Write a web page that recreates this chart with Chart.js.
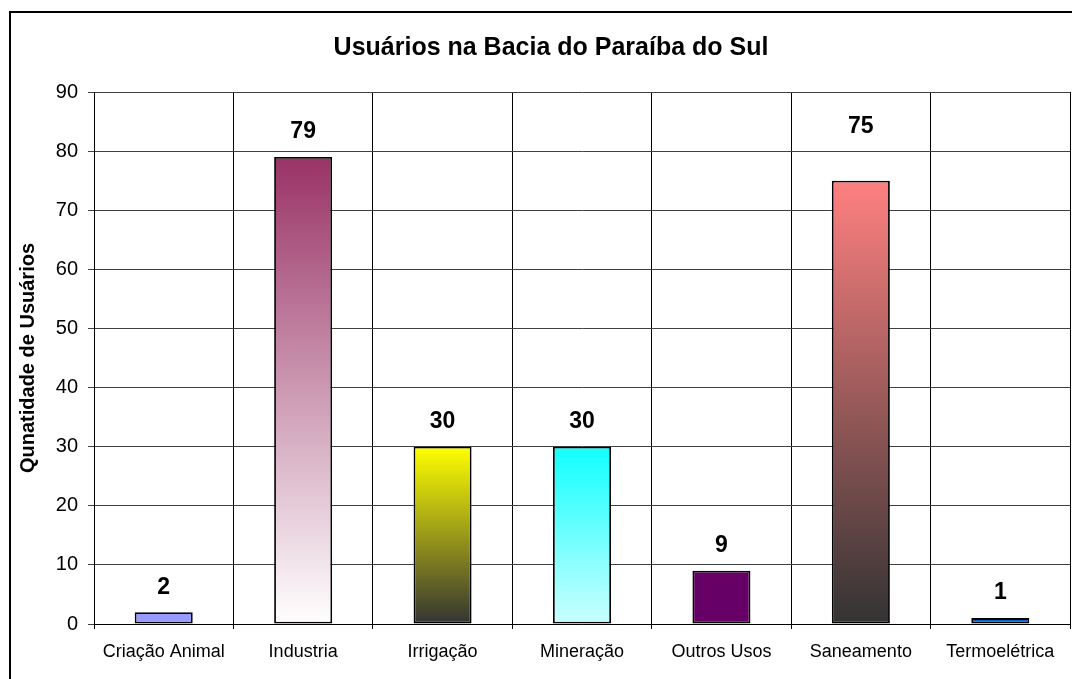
<!DOCTYPE html>
<html>
<head>
<meta charset="utf-8">
<script src="https://cdn.jsdelivr.net/npm/chart.js@4/dist/chart.umd.min.js"></script>
<style>
  html, body { margin: 0; padding: 0; background: #fff; }
  #wrap { width: 1072px; height: 679px; position: relative; }
</style>
</head>
<body>
<div id="wrap"><canvas id="c" width="1072" height="679"></canvas></div>
<script>
const chartTitle = 'Usuários na Bacia do Paraíba do Sul';
const yAxisTitle = 'Qunatidade de Usuários';
const categories = ['Criação Animal', 'Industria', 'Irrigação', 'Mineração', 'Outros Usos', 'Saneamento', 'Termoelétrica'];
const values = [2, 79, 30, 30, 9, 75, 1];
const yTicks = [0, 10, 20, 30, 40, 50, 60, 70, 80, 90];
// [top colour, bottom colour] per bar
const barTopColors    = ['#9999ff', '#993366', '#ffff00', '#11ffff', '#660066', '#ff8080', '#0066cc'];
const barBottomColors = ['#9999ff', '#ffffff', '#333333', '#ccffff', '#660066', '#333333', '#0066cc'];

const FONT = '"Liberation Sans", Arial, Helvetica, sans-serif';
Chart.defaults.font.family = FONT;
Chart.defaults.color = '#000';

function barFill(ctx) {
  const i = ctx.dataIndex;
  const chart = ctx.chart;
  const top = barTopColors[i], bottom = barBottomColors[i];
  if (top === bottom || !chart.chartArea) return top;
  const ys = chart.scales.y;
  const y0 = ys.getPixelForValue(0);
  const y1 = ys.getPixelForValue(values[i]);
  const g = chart.ctx.createLinearGradient(0, y1, 0, y0);
  g.addColorStop(0, top);
  g.addColorStop(1, bottom);
  return g;
}

const framePlugin = {
  id: 'frame',
  beforeDraw(chart) {
    const c = chart.ctx;
    c.save();
    c.fillStyle = '#fff';
    c.fillRect(0, 0, chart.width, chart.height);
    c.restore();
  },
  afterDraw(chart) {
    const c = chart.ctx;
    c.save();
    c.strokeStyle = '#000';
    c.lineWidth = 2;
    c.beginPath();
    c.moveTo(10, chart.height + 2);
    c.lineTo(10, 12);
    c.lineTo(chart.width + 2, 12);
    c.stroke();
    c.restore();
  }
};

const valueLabels = {
  id: 'valueLabels',
  afterDatasetsDraw(chart, args, opts) {
    const c = chart.ctx;
    const meta = chart.getDatasetMeta(0);
    const extra = opts.extraLift || {};
    c.save();
    c.font = 'bold 23px ' + FONT;
    c.fillStyle = '#000';
    c.textAlign = 'center';
    c.textBaseline = 'middle';
    meta.data.forEach((bar, i) => {
      c.fillText(String(values[i]), bar.x, bar.y - 25 - (extra[i] || 0));
    });
    c.restore();
  }
};

new Chart(document.getElementById('c'), {
  type: 'bar',
  data: {
    labels: categories,
    datasets: [{
      data: values,
      backgroundColor: barFill,
      borderColor: '#000',
      borderWidth: 1.8,
      borderSkipped: false,
      categoryPercentage: 1,
      barPercentage: 0.416
    }]
  },
  options: {
    responsive: false,
    animation: false,
    devicePixelRatio: 1,
    layout: { padding: { left: 32, right: 2, top: 0, bottom: 0 } },
    plugins: {
      legend: { display: false },
      tooltip: { enabled: false },
      valueLabels: { extraLift: { 5: 29 } },
      title: {
        display: true,
        text: chartTitle,
        color: '#000',
        font: { size: 25, weight: 'bold', family: FONT },
        padding: { top: 33, bottom: 29 }
      }
    },
    scales: {
      x: {
        grid: { display: true, offset: true, color: '#000', lineWidth: 1, tickLength: 5, drawTicks: true },
        border: { display: true, color: '#000', width: 1 },
        ticks: { font: { size: 18 }, color: '#000', padding: 12, maxRotation: 0, autoSkip: false },
        afterFit(scale) { scale.height = 55; }
      },
      y: {
        min: 0,
        max: 90,
        grid: { color: '#404040', lineWidth: 1, tickLength: 6 },
        border: { display: true, color: '#000', width: 1 },
        ticks: {
          stepSize: 10,
          font: { size: 20 },
          color: '#000',
          padding: 10,
          callback: (v) => yTicks.includes(v) ? String(v) : ''
        },
        title: {
          display: true,
          text: yAxisTitle,
          color: '#000',
          font: { size: 20, weight: 'bold', family: FONT },
          padding: { top: -16, bottom: 0 }
        },
        afterFit(scale) { scale.width = 62; }
      }
    }
  },
  plugins: [framePlugin, valueLabels]
});
</script>
</body>
</html>
